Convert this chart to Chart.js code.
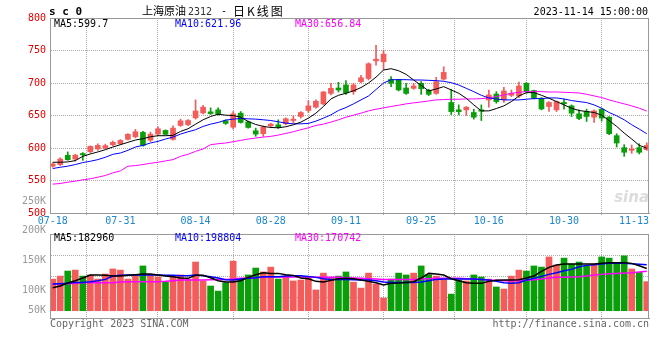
<!DOCTYPE html>
<html>
<head>
<meta charset="utf-8">
<script src="https://cdn.jsdelivr.net/npm/chart.js@4"></script>
<style>
  body { margin: 0; background: #fff; }
  #wrap { position: relative; width: 660px; height: 360px; }
  canvas { position: absolute; left: 0; top: 0; }
</style>
</head>
<body>
<div id="wrap">
  <canvas id="volume" width="660" height="360"></canvas>
  <canvas id="kline" width="660" height="236"></canvas>
</div>
<script>
// Dias de pregão (sc2312, 2023)
const dates = [
  '07-18','07-19','07-20','07-21','07-24','07-25','07-26','07-27','07-28','07-31',
  '08-01','08-02','08-03','08-04','08-07','08-08','08-09','08-10','08-11','08-14',
  '08-15','08-16','08-17','08-18','08-21','08-22','08-23','08-24','08-25','08-28',
  '08-29','08-30','08-31','09-01','09-04','09-05','09-06','09-07','09-08','09-11',
  '09-12','09-13','09-14','09-15','09-18','09-19','09-20','09-21','09-22','09-25',
  '09-26','09-27','09-28','10-09','10-10','10-11','10-12','10-13','10-16','10-17',
  '10-18','10-19','10-20','10-23','10-24','10-25','10-26','10-27','10-30','10-31',
  '11-01','11-02','11-03','11-06','11-07','11-08','11-09','11-10','11-13','11-14'
];
const dateTicks = ['07-18','07-31','08-14','08-28','09-11','09-25','10-16','10-30','11-13'];
const priceTicks = [500, 550, 600, 650, 700, 750, 800];
const volumeLabels = ['250K', '200K', '150K', '100K', '50K'];

const open = [
  572.0, 574.5, 588.8, 583.0, 591.5, 594.4, 598.5, 599.5, 605.0, 606.6,
  613.3, 617.3, 624.0, 612.0, 621.4, 627.0, 613.3, 634.7, 636.0, 646.4,
  654.0, 655.6, 658.7, 641.8, 632.0, 653.6, 640.3, 626.5, 622.0, 634.0,
  635.7, 637.2, 642.3, 648.5, 657.7, 662.8, 667.8, 684.0, 692.3, 697.0,
  686.7, 702.0, 707.0, 734.0, 732.6, 705.6, 705.6, 692.3, 691.8, 699.5,
  688.8, 684.0, 706.0, 670.0, 658.7, 658.7, 654.6, 658.7, 674.0, 683.0,
  674.0, 681.0, 680.0, 699.5, 688.3, 676.5, 663.8, 658.7, 670.0, 664.8,
  652.5, 656.0, 647.4, 659.7, 647.4, 619.0, 600.5, 596.4, 600.5, 597.4
];
const close = [
  575.5, 583.0, 582.0, 589.0, 589.5, 602.5, 604.0, 603.6, 608.7, 611.7,
  621.0, 625.0, 604.0, 621.4, 629.6, 621.0, 630.6, 641.8, 642.3, 657.0,
  662.8, 653.0, 652.5, 637.8, 652.5, 639.3, 631.6, 621.4, 632.0, 636.7,
  632.7, 645.0, 644.4, 654.6, 664.8, 672.0, 686.2, 691.8, 689.3, 685.0,
  697.0, 708.0, 729.6, 736.7, 744.4, 699.5, 689.3, 684.0, 695.4, 691.3,
  682.6, 702.0, 716.3, 656.0, 656.0, 662.8, 647.4, 656.6, 681.6, 671.4,
  687.8, 684.0, 695.4, 686.7, 676.5, 660.0, 670.0, 671.4, 668.0, 653.6,
  645.4, 648.5, 657.1, 646.0, 622.0, 607.7, 593.4, 598.5, 593.4, 604.0
];
const high = [
  577.0, 585.0, 594.0, 590.5, 593.0, 603.5, 606.5, 606.0, 610.5, 613.0,
  622.0, 628.6, 625.5, 624.5, 632.7, 628.0, 634.0, 644.4, 643.9, 674.0,
  665.8, 661.8, 661.8, 643.4, 656.1, 656.1, 641.5, 630.6, 634.0, 638.3,
  643.4, 646.4, 649.5, 656.1, 672.9, 674.0, 687.0, 699.5, 701.0, 703.6,
  699.5, 711.7, 731.1, 758.0, 750.5, 709.7, 705.6, 699.5, 699.5, 702.0,
  690.3, 708.7, 725.0, 690.0, 666.3, 663.8, 659.7, 666.3, 689.3, 686.7,
  693.4, 689.3, 701.5, 701.0, 689.3, 677.6, 671.4, 672.4, 675.0, 666.3,
  658.7, 659.7, 658.7, 661.2, 648.5, 622.0, 605.1, 604.6, 606.6, 608.0
];
const low = [
  570.5, 573.0, 581.0, 579.6, 581.0, 592.5, 596.5, 598.5, 603.5, 605.0,
  612.5, 615.5, 603.0, 610.0, 619.0, 620.0, 612.2, 633.2, 634.2, 644.4,
  652.5, 651.5, 650.5, 636.2, 629.0, 638.3, 630.5, 618.0, 618.0, 632.2,
  630.1, 635.7, 638.3, 646.0, 654.6, 661.2, 666.3, 681.6, 686.2, 682.6,
  682.6, 700.5, 704.6, 727.6, 720.9, 694.4, 687.8, 682.6, 690.3, 682.6,
  680.6, 682.6, 704.6, 651.5, 651.0, 650.0, 644.4, 642.3, 662.8, 668.9,
  670.0, 679.0, 677.6, 684.2, 675.5, 658.7, 656.1, 656.1, 659.7, 648.5,
  643.4, 640.8, 639.3, 641.3, 620.4, 601.5, 587.2, 591.8, 590.8, 596.4
];

const ma5 = [
  578.1, 578.1, 578.6, 580.6, 587.2, 590.8, 593.9, 597.4, 601.5, 605.1,
  608.7, 612.2, 614.3, 617.3, 618.9, 618.9, 619.4, 625.5, 629.6, 636.7,
  643.4, 648.5, 652.0, 650.5, 650.0, 647.4, 640.8, 636.2, 633.2, 631.6,
  631.1, 632.7, 635.7, 639.8, 645.9, 653.6, 663.8, 675.5, 681.1, 684.2,
  688.0, 693.0, 700.0, 709.0, 720.0, 722.0, 718.9, 713.3, 704.6, 696.4,
  687.8, 690.8, 694.4, 689.3, 684.2, 676.5, 666.3, 657.1, 657.1, 660.7,
  664.8, 671.4, 680.1, 685.2, 685.2, 681.1, 676.5, 671.4, 666.3, 661.2,
  657.7, 656.1, 654.6, 650.5, 642.3, 633.2, 623.0, 613.8, 604.1, 599.7
];
const ma10 = [
  568.4, 570.4, 572.0, 574.5, 577.6, 579.6, 582.1, 585.7, 590.3, 592.3,
  596.4, 601.5, 604.1, 607.7, 610.2, 613.8, 616.8, 621.4, 625.0, 628.1,
  633.2, 636.7, 639.3, 642.9, 644.4, 645.4, 644.9, 644.4, 643.4, 642.3,
  640.3, 638.3, 637.2, 637.2, 637.8, 641.3, 645.9, 651.0, 657.7, 662.2,
  667.9, 674.0, 680.0, 690.0, 700.0, 705.0, 705.1, 705.1, 704.6, 704.6,
  704.1, 703.6, 702.6, 700.5, 696.9, 691.8, 686.7, 681.1, 677.0, 675.5,
  674.0, 674.0, 674.0, 675.0, 676.0, 676.0, 677.0, 677.0, 675.5, 673.0,
  671.4, 669.9, 666.3, 661.2, 654.6, 649.5, 643.4, 635.7, 629.1, 621.96
];
const ma30 = [
  544.4, 545.4, 547.4, 549.0, 551.0, 552.6, 555.1, 557.7, 561.7, 564.8,
  571.9, 573.0, 574.5, 576.5, 578.1, 580.1, 582.1, 587.2, 590.3, 594.9,
  598.5, 605.1, 606.6, 607.7, 609.7, 611.7, 613.8, 615.3, 616.8, 617.9,
  619.9, 622.4, 625.0, 628.1, 631.1, 634.7, 636.7, 639.8, 643.4, 647.4,
  650.5, 653.6, 657.1, 659.7, 661.7, 663.8, 665.8, 667.9, 669.4, 670.9,
  672.4, 674.0, 674.5, 675.0, 675.0, 675.5, 675.5, 676.0, 677.0, 679.1,
  681.6, 684.2, 685.7, 686.7, 686.7, 686.7, 686.2, 686.2, 685.7, 685.2,
  684.7, 682.7, 680.1, 677.6, 674.0, 670.9, 667.9, 664.8, 661.2, 656.84
];

// Volume em milhares de lotes
const volumeK = [
  137, 150, 172, 176, 150, 155, 137, 159, 181, 176,
  137, 155, 194, 155, 146, 124, 150, 155, 137, 211,
  129, 107, 85, 121, 215, 137, 155, 185, 168, 189,
  137, 150, 129, 133, 146, 90, 163, 142, 150, 168,
  124, 98, 163, 116, 55, 137, 163, 155, 163, 194,
  155, 150, 136, 72, 133, 129, 155, 146, 137, 103,
  94, 150, 176, 172, 194, 189, 233, 198, 228, 202,
  211, 194, 202, 233, 228, 208, 238, 181, 166, 126
];
const volMa5 = [
  99.7, 106.9, 119.9, 130.1, 141.6, 154.6, 154.6, 153.2, 150.3, 150.3,
  153.2, 156.1, 158.9, 158.9, 154.6, 150.3, 147.4, 141.6, 140.2, 153.2,
  153.2, 143.1, 130.1, 124.3, 124.3, 130.1, 144.5, 156.1, 164.7, 161.8,
  161.8, 156.1, 153.2, 141.6, 138.7, 127.2, 124.3, 131.5, 138.7, 140.2,
  138.7, 132.9, 127.2, 121.4, 111.3, 118.5, 119.9, 122.8, 125.7, 141.6,
  161.8, 158.9, 154.6, 138.7, 130.1, 121.4, 118.5, 118.5, 127.2, 131.5,
  132.9, 132.9, 134.4, 141.6, 150.3, 170.5, 187.9, 198.0, 202.3, 202.3,
  202.3, 202.3, 202.3, 205.2, 208.1, 208.1, 208.1, 205.2, 195.1, 182.96
];
const volMa10 = [
  115.6, 117.0, 118.5, 122.8, 122.8, 125.7, 130.1, 135.8, 150.3, 153.2,
  154.6, 154.6, 154.6, 154.6, 154.6, 153.2, 153.2, 151.7, 151.7, 154.6,
  151.7, 147.4, 141.6, 134.4, 132.9, 137.3, 140.2, 143.1, 147.4, 147.4,
  147.4, 150.3, 151.7, 151.7, 148.8, 144.5, 138.7, 135.8, 135.8, 135.8,
  134.4, 132.9, 132.9, 130.1, 124.3, 122.8, 122.8, 122.8, 122.8, 124.3,
  130.1, 135.8, 137.3, 137.3, 137.3, 137.3, 137.3, 135.8, 132.9, 127.2,
  121.4, 118.5, 121.4, 132.9, 140.2, 148.8, 157.5, 164.7, 173.4, 179.2,
  190.7, 196.5, 199.4, 202.3, 205.2, 205.2, 205.2, 203.7, 200.9, 198.804
];
const volMa30 = [
  115.6, 115.6, 117.0, 118.5, 121.4, 121.4, 121.4, 121.4, 121.4, 124.3,
  125.7, 125.7, 125.7, 125.7, 125.7, 127.2, 130.1, 133.0, 133.0, 133.0,
  133.0, 134.4, 135.8, 135.8, 137.3, 140.2, 141.6, 143.1, 144.5, 146.0,
  146.0, 146.0, 146.0, 146.0, 146.0, 144.5, 144.5, 144.5, 144.5, 143.1,
  141.6, 140.2, 138.7, 137.3, 135.8, 135.8, 135.8, 135.8, 135.8, 137.3,
  138.7, 140.2, 140.2, 140.2, 140.2, 138.7, 137.3, 135.8, 133.0, 131.5,
  130.1, 130.1, 130.1, 131.5, 134.4, 137.3, 141.6, 144.5, 144.5, 146.0,
  147.4, 150.3, 154.6, 157.5, 160.4, 161.8, 163.3, 164.7, 167.6, 170.742
];

Chart.defaults.font.family = '"DejaVu Sans Mono", monospace';
Chart.defaults.font.size = 10;

const MONO = '10px "DejaVu Sans Mono"';
const upColor = '#f45b5b';
const downColor = '#0a9e0a';
const gridColor = '#aaa';
const frameColor = '#999';
const candleColors = close.map((c, i) => c >= open[i] ? upColor : downColor);
const last = dates.length - 1;

function pontos(arr) {
  return arr.map((v, i) => ({ x: i, y: v }));
}

function linha(arr, cor, largura) {
  return { type: 'line', data: pontos(arr), borderColor: cor, borderWidth: largura,
           pointRadius: 0, tension: 0, order: 0 };
}

// Eixo de datas compartilhado pelos dois painéis
function eixoX(altura) {
  return {
    type: 'linear', min: -0.36, max: 79.3, offset: false,
    afterBuildTicks: s => { s.ticks = dateTicks.map(d => ({ value: dates.indexOf(d) })); },
    afterFit: s => { s.height = altura; },
    ticks: { display: false },
    grid: { color: gridColor, drawTicks: true, tickLength: 3, tickColor: gridColor, tickBorderDash: [1, 1] },
    border: { color: frameColor, dash: [1, 1] }
  };
}

function moldura(chart) {
  const a = chart.chartArea;
  const ctx = chart.ctx;
  ctx.strokeStyle = frameColor;
  ctx.lineWidth = 1;
  ctx.setLineDash([]);
  ctx.strokeRect(a.left + 0.5, a.top + 0.5, a.right - a.left - 1, a.bottom - a.top);
}

const textoK = {
  id: 'textoK',
  afterDraw(chart) {
    const ctx = chart.ctx;
    const a = chart.chartArea;
    const xs = chart.scales.x;
    ctx.save();
    moldura(chart);
    ctx.textBaseline = 'middle';

    // titulo
    ctx.fillStyle = '#000';
    ctx.font = 'bold 11px "DejaVu Sans Mono"';
    ctx.textAlign = 'left';
    ctx.fillText('s c 0', 49, 12);
    ctx.font = '11px "Noto Sans CJK SC"';
    ctx.fillText('上海原油', 142, 11);
    ctx.font = MONO;
    ctx.fillStyle = '#333';
    ctx.fillText('2312', 188, 12);
    ctx.fillStyle = '#000';
    ctx.fillText('-', 221, 11);
    ctx.font = '12px "Noto Sans CJK SC"';
    ctx.letterSpacing = '2px';
    ctx.fillText('日K线图', 233, 11);
    ctx.letterSpacing = '0px';
    ctx.font = MONO;
    ctx.textAlign = 'right';
    ctx.fillText('2023-11-14 15:00:00', 648, 12);

    // legenda das medias
    ctx.textAlign = 'left';
    ctx.fillStyle = '#000';
    ctx.fillText('MA5:' + ma5[last], 54, 24);
    ctx.fillStyle = '#0000ff';
    ctx.fillText('MA10:' + ma10[last], 175, 24);
    ctx.fillStyle = '#ff00ff';
    ctx.fillText('MA30:' + ma30[last], 295, 24);

    // datas
    ctx.fillStyle = '#1b88cf';
    ctx.textAlign = 'center';
    dateTicks.forEach(d => {
      const w = ctx.measureText(d).width;
      let px = xs.getPixelForValue(dates.indexOf(d));
      px = Math.min(px, a.right - w / 2);
      ctx.fillText(d, px, a.bottom + 8);
    });

    // marca d'agua
    ctx.fillStyle = '#dcdcdc';
    ctx.font = 'italic bold 15px "DejaVu Sans"';
    ctx.textAlign = 'right';
    ctx.fillText('sina', a.right, a.bottom - 15);
    ctx.restore();
  }
};

const textoVol = {
  id: 'textoVol',
  afterDraw(chart) {
    const ctx = chart.ctx;
    const a = chart.chartArea;
    ctx.save();
    moldura(chart);
    ctx.font = MONO;
    ctx.textBaseline = 'middle';

    ctx.textAlign = 'left';
    ctx.fillStyle = '#000';
    ctx.fillText('MA5:' + Math.round(volMa5[last] * 1000), 54, a.top + 4);
    ctx.fillStyle = '#0000ff';
    ctx.fillText('MA10:' + Math.round(volMa10[last] * 1000), 175, a.top + 4);
    ctx.fillStyle = '#ff00ff';
    ctx.fillText('MA30:' + Math.round(volMa30[last] * 1000), 295, a.top + 4);

    // rotulos do volume (posicoes como no original)
    const yRotulos = [201, 230.5, 260.7, 290.7, 310.5];
    ctx.fillStyle = '#999';
    ctx.textAlign = 'right';
    volumeLabels.forEach((t, i) => ctx.fillText(t, a.left - 4, yRotulos[i]));

    // rodape
    ctx.fillStyle = '#666';
    ctx.textAlign = 'left';
    ctx.fillText('Copyright 2023 SINA.COM', 50, a.bottom + 6);
    ctx.textAlign = 'right';
    ctx.fillText('http://finance.sina.com.cn', a.right, a.bottom + 6);
    ctx.restore();
  }
};

const opcoesBase = {
  responsive: false,
  animation: false,
  devicePixelRatio: 1,
  plugins: { legend: { display: false }, tooltip: { enabled: false } }
};

// Grafico de velas
new Chart(document.getElementById('kline'), {
  type: 'bar',
  data: {
    datasets: [
      linha(ma5, '#000', 1),
      linha(ma10, '#0000ff', 1),
      linha(ma30, '#ff00ff', 1),
      { data: low.map((v, i) => ({ x: i, y: [v, high[i]] })), backgroundColor: candleColors,
        barThickness: 1, grouped: false, order: 2 },
      { data: open.map((v, i) => ({ x: i, y: [v, close[i]] })), backgroundColor: candleColors,
        barThickness: 5, minBarLength: 1, grouped: false, order: 1 }
    ]
  },
  options: {
    ...opcoesBase,
    layout: { padding: { top: 18, right: 11, left: 0, bottom: 0 } },
    scales: {
      x: eixoX(23),
      y: {
        type: 'linear', min: 500, max: 800,
        afterBuildTicks: s => { s.ticks = priceTicks.map(v => ({ value: v })); },
        afterFit: s => { s.width = 50; },
        ticks: { color: '#e00000', padding: 4 },
        grid: { color: gridColor, drawTicks: false },
        border: { color: frameColor, dash: [1, 1] }
      }
    }
  },
  plugins: [textoK]
});

// Grafico de volume
new Chart(document.getElementById('volume'), {
  type: 'bar',
  data: {
    datasets: [
      linha(volMa5, '#000', 1.5),
      linha(volMa10, '#0000ff', 1.5),
      linha(volMa30, '#ff00ff', 1.5),
      { data: pontos(volumeK), backgroundColor: candleColors, barThickness: 6, grouped: false, order: 1 }
    ]
  },
  options: {
    ...opcoesBase,
    layout: { padding: { top: 234, right: 11, left: 0, bottom: 0 } },
    scales: {
      x: eixoX(42),
      y: {
        type: 'linear', min: -31.6, max: 332.5,
        afterBuildTicks: s => {
          const passo = (s.max - s.min) / 4;
          s.ticks = [1, 2, 3].map(k => ({ value: s.min + k * passo }));
        },
        afterFit: s => { s.width = 50; },
        ticks: { display: false },
        grid: { color: gridColor, drawTicks: false },
        border: { color: frameColor, dash: [1, 1] }
      }
    }
  },
  plugins: [textoVol]
});
</script>
</body>
</html>
